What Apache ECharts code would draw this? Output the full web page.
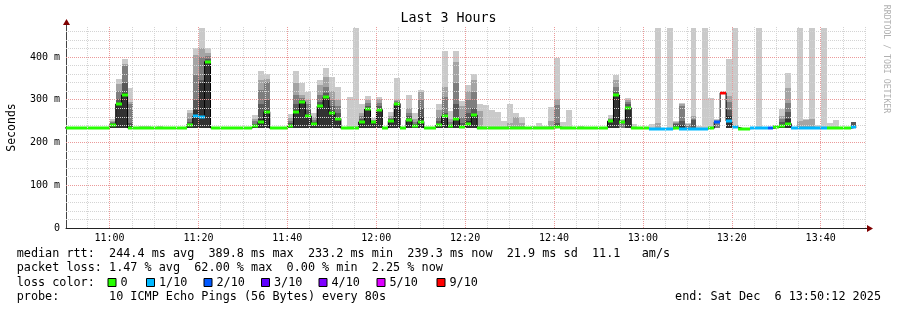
<!DOCTYPE html>
<html><head><meta charset="utf-8">
<script src="https://cdn.jsdelivr.net/npm/echarts@6/dist/echarts.min.js"></script>
<style>html,body{margin:0;padding:0;background:#fff}#c{width:897px;height:310px}</style>
</head><body><div id="c"></div>
<script>
const _ = null;
// time in seconds since local midnight; 80 s smokeping steps
const STEP_START = 38963, STEP_SEC = 80;
const X_MIN = 39012, X_MAX = 49812;   // 10:50:12 .. 13:50:12
const Y_MAX = 470;
const SMOKE_FLOOR = 233;

const xLabelValues = [39600, 40800, 42000, 43200, 44400, 45600, 46800, 48000, 49200];
const xLabelText   = ['11:00','11:20','11:40','12:00','12:20','12:40','13:00','13:20','13:40'];
const yLabelValues = [0, 100, 200, 300, 400];
const yLabelText   = ['0', '100 m', '200 m', '300 m', '400 m'];

// median rtt per step (ms)
const medianMs = [
234,234,234,234,234,234,234,234,242,290,
311,234,234,235,235,233,234,233,233,234,
234,242,261,259,389,234,233,234,233,234,
233,234,238,247,272,233,233,233,239,271,
295,262,243,285,306,270,256,233,234,234,
248,279,247,277,234,250,291,235,253,239,
249,234,234,240,261,238,254,236,244,264,
233,233,234,234,234,234,234,234,234,234,
234,234,234,236,234,234,234,234,234,234,
234,234,250,311,249,281,233,233,233,232,
232,232,232,233,232,232,232,232,232,233,
248,316,250,236,232,232,234,234,234,233,
236,238,244,234,234,234,234,234,234,234,
234,233,233,236];
// lost pings out of 10 per step
const lossOf10 = [
0,0,0,0,0,0,0,0,0,0,
0,0,0,0,0,0,0,0,0,0,
0,0,1,1,0,0,0,0,0,0,
0,0,0,0,0,0,0,0,0,0,
0,0,0,0,0,0,0,0,0,0,
0,0,0,0,0,0,0,0,0,0,
0,0,0,0,0,0,0,0,0,0,
0,0,0,0,0,0,0,0,0,0,
0,0,0,0,0,0,0,0,0,0,
0,0,0,0,0,0,0,0,0,1,
1,1,1,0,1,1,1,1,1,0,
2,9,1,1,0,0,1,1,1,2,
0,0,0,1,1,1,1,1,1,0,
0,0,0,1];
// smoke band tops (ms), outer (lightest) to inner (darkest)
const smokeTop1 = [
_,_,_,_,_,_,_,_,256,348,
396,328,_,239,239,_,238,_,_,_,
_,276,422,468,421,237,_,_,_,_,
_,_,264,367,359,_,_,_,267,366,
339,317,270,346,374,352,329,_,306,468,
291,309,257,306,_,271,351,_,312,270,
323,_,_,291,415,273,415,297,335,359,
291,288,275,271,250,291,270,260,_,238,
246,238,283,398,248,277,_,239,_,_,
_,_,264,358,254,304,244,_,_,244,
468,_,468,250,293,246,468,238,468,304,
256,_,396,468,_,_,_,468,_,_,
240,278,363,_,468,256,468,240,468,246,
253,_,_,248];
const smokeTop2 = [
_,_,_,_,_,_,_,_,251,336,
384,295,_,_,_,_,_,_,_,_,
_,270,404,420,409,_,_,_,_,_,
_,_,256,346,349,_,_,_,258,339,
310,300,260,334,352,321,300,_,_,_,
270,299,253,301,_,262,300,_,280,255,
317,_,_,275,329,255,388,285,320,346,
273,_,_,_,_,245,260,245,_,_,
_,_,250,301,_,_,_,_,_,_,
_,_,258,347,252,299,_,_,_,_,
246,_,_,248,290,243,261,_,_,_,
252,_,309,_,_,_,_,_,_,_,
_,262,328,_,250,252,254,_,_,_,
_,_,_,248];
const smokeTop3 = [
_,_,_,_,_,_,_,_,248,320,
378,291,_,_,_,_,_,_,_,_,
_,256,357,400,402,_,_,_,_,_,
_,_,250,322,341,_,_,_,250,310,
305,290,252,310,330,300,285,_,_,_,
262,292,251,292,_,258,296,_,270,248,
300,_,_,260,306,248,340,260,300,317,
_,_,_,_,_,_,_,_,_,_,
_,_,_,287,_,_,_,_,_,_,
_,_,254,330,251,295,_,_,_,_,
_,_,_,246,286,240,256,_,_,_,
250,_,295,_,_,_,_,_,_,_,
_,255,293,_,_,_,_,_,_,_,
_,_,_,248];
const smokeTop4 = [
_,_,_,_,_,_,_,_,245,302,
340,245,_,_,_,_,_,_,_,_,
_,248,300,345,395,_,_,_,_,_,
_,_,244,290,300,_,_,_,245,290,
300,275,247,295,315,285,270,_,_,_,
255,285,249,285,_,254,293,_,262,243,
280,_,_,250,270,242,290,245,270,280,
_,_,_,_,_,_,_,_,_,_,
_,_,_,245,_,_,_,_,_,_,
_,_,252,318,_,290,_,_,_,_,
_,_,_,244,250,_,253,_,_,_,
_,_,275,_,_,_,_,_,_,_,
_,248,271,_,_,_,_,_,_,_,
_,_,_,247];
const smokeTop5 = [
_,_,_,_,_,_,_,_,243,293,
315,238,_,_,_,_,_,_,_,_,
_,244,275,338,391,_,_,_,_,_,
_,_,240,255,275,_,_,_,241,275,
297,265,245,287,308,273,258,_,_,_,
250,281,248,279,_,252,292,_,255,240,
260,_,_,242,263,240,256,238,250,266,
_,_,_,_,_,_,_,_,_,_,
_,_,_,_,_,_,_,_,_,_,
_,_,251,313,_,283,_,_,_,_,
_,_,_,_,240,_,_,_,_,_,
_,_,262,_,_,_,_,_,_,_,
_,240,255,_,_,_,_,_,_,_,
_,_,_,_];

const lossLegendLabels = ['0','1/10','2/10','3/10','4/10','5/10','9/10'];
const lossLegendColors = ['#26ff00','#00b8ff','#0059ff','#5e00ff','#7e00ff','#dd00ff','#ff0000'];
const SMOKE_COLORS = ['#cacaca','#a4a4a4','#7e7e7e','#585858','#323232'];
function lossColor(n){ return n <= 5 ? lossLegendColors[n] : lossLegendColors[6]; }

const smokeTops = [smokeTop1, smokeTop2, smokeTop3, smokeTop4, smokeTop5];
const smokeData = medianMs.map((m, k) => {
  const t0 = STEP_START + k * STEP_SEC;
  return [t0, t0 + STEP_SEC, SMOKE_FLOOR].concat(smokeTops.map(a => a[k] == null ? NaN : a[k]));
});
const lossData = medianMs.map((m, k) => {
  const t0 = STEP_START + k * STEP_SEC;
  return [t0, t0 + STEP_SEC, m, lossOf10[k]];
});
const medianLine = medianMs.map((m, k) => [STEP_START + k * STEP_SEC, m]);
medianLine.push([STEP_START + medianMs.length * STEP_SEC, medianMs[medianMs.length - 1]]);

function clip(shape, cs){
  return echarts.graphic.clipRectByRect(shape, {x: cs.x, y: cs.y, width: cs.width, height: cs.height});
}
function renderSmoke(params, api){
  const cs = params.coordSys;
  const t0 = api.value(0), t1 = api.value(1), fl = api.value(2);
  const a = api.coord([t0, fl]), b = api.coord([t1, fl]);
  const x0 = Math.round(a[0]), x1 = Math.round(b[0]), yb = Math.round(a[1]);
  const children = [];
  for (let i = 0; i < 5; i++){
    const h = api.value(3 + i);
    if (h == null || isNaN(h) || h <= fl) continue;
    const yt = Math.round(api.coord([t0, Math.min(h, Y_MAX)])[1]);
    const s = clip({x: x0, y: yt, width: x1 - x0, height: yb - yt}, cs);
    if (s) children.push({type: 'rect', shape: s, style: {fill: SMOKE_COLORS[i]}});
  }
  return {type: 'group', children};
}
function renderLoss(params, api){
  const cs = params.coordSys;
  const t0 = api.value(0), t1 = api.value(1), m = api.value(2), n = api.value(3);
  const a = api.coord([t0, m]), b = api.coord([t1, m]);
  const x0 = Math.round(a[0]), x1 = Math.round(b[0]);
  const s = clip({x: x0, y: Math.round(a[1]) - 1.5, width: x1 - x0, height: 3}, cs);
  if (!s) return null;
  return {type: 'rect', shape: s, style: {fill: lossColor(n)}};
}

// grid lines
const MINOR = {color: '#d4d4d4', type: [1, 1], width: 1};
const MAJOR = {color: '#eb9a9a', type: [1, 1], width: 1};
const gridLines = [];
for (let t = 39300; t < X_MAX; t += 300){
  gridLines.push({xAxis: t, lineStyle: (t - 39600) % 1200 === 0 ? MAJOR : MINOR});
}
for (let v = 20; v < Y_MAX; v += 20){
  gridLines.push({yAxis: v, lineStyle: v % 100 === 0 ? MAJOR : MINOR});
}

const MONO = '"DejaVu Sans Mono", monospace';
const LF = '11.8px ' + MONO;
const legendBoxX = [107.5, 146, 203.5, 261, 318.5, 376.5, 436.5];
const graphics = [
  {type: 'text', x: 16.7, y: 253.5, style: {text: 'median rtt:  244.4 ms avg  389.8 ms max  233.2 ms min  239.3 ms now  21.9 ms sd  11.1   am/s', font: LF, fill: '#000', verticalAlign: 'middle'}},
  {type: 'text', x: 16.7, y: 268.3, style: {text: 'packet loss: 1.47 % avg  62.00 % max  0.00 % min  2.25 % now', font: LF, fill: '#000', verticalAlign: 'middle'}},
  {type: 'text', x: 16.7, y: 282.7, style: {text: 'loss color:', font: LF, fill: '#000', verticalAlign: 'middle'}},
  {type: 'text', x: 16.7, y: 297.3, style: {text: 'probe:       10 ICMP Echo Pings (56 Bytes) every 80s', font: LF, fill: '#000', verticalAlign: 'middle'}},
  {type: 'text', x: 881, y: 297.3, style: {text: 'end: Sat Dec  6 13:50:12 2025', font: LF, fill: '#000', align: 'right', verticalAlign: 'middle'}},
  {type: 'text', x: 886, y: 59, rotation: -Math.PI / 2, style: {text: 'RRDTOOL / TOBI OETIKER', font: '8.2px ' + MONO, fill: '#b0b0b0', align: 'center', verticalAlign: 'middle'}}
];
lossLegendLabels.forEach((lab, i) => {
  graphics.push({type: 'rect', shape: {x: legendBoxX[i] + 0.5, y: 278.5, width: 8, height: 8}, style: {fill: lossLegendColors[i], stroke: '#000', lineWidth: 1}});
  graphics.push({type: 'text', x: legendBoxX[i] + 13, y: 282.7, style: {text: lab, font: LF, fill: '#000', verticalAlign: 'middle'}});
});

const chart = echarts.init(document.getElementById('c'), null, {renderer: 'canvas'});
chart.setOption({
  animation: false,
  backgroundColor: '#ffffff',
  title: {text: 'Last 3 Hours', left: 'center', top: 12, padding: 0,
    textStyle: {fontFamily: MONO, fontSize: 13.3, fontWeight: 'normal', color: '#000'}},
  grid: {left: 66, right: 31, top: 27, bottom: 82, containLabel: false, outerBoundsMode: 'none'},
  xAxis: {
    type: 'value', min: X_MIN, max: X_MAX,
    axisLine: {lineStyle: {color: '#222', width: 1}},
    axisTick: {show: false},
    splitLine: {show: false},
    axisLabel: {customValues: xLabelValues, margin: 5, fontFamily: MONO, fontSize: 10, color: '#000',
      formatter: v => { const i = xLabelValues.indexOf(v); return i >= 0 ? xLabelText[i] : ''; }}
  },
  yAxis: {
    type: 'value', min: 0, max: Y_MAX,
    name: 'Seconds', nameLocation: 'middle', nameGap: 48, nameRotate: 90,
    nameTextStyle: {fontFamily: MONO, fontSize: 11.5, color: '#000'},
    axisLine: {show: true, lineStyle: {color: '#444', width: 1}},
    axisTick: {show: false},
    splitLine: {show: false},
    axisLabel: {customValues: yLabelValues, margin: 6, fontFamily: MONO, fontSize: 10, color: '#000',
      formatter: v => { const i = yLabelValues.indexOf(v); return i >= 0 ? yLabelText[i] : ''; }}
  },
  graphic: graphics,
  series: [
    {type: 'line', z: 1, data: [[X_MIN, 0]], symbol: 'none', lineStyle: {opacity: 0}, silent: true,
      markLine: {silent: true, symbol: 'none', label: {show: false}, animation: false, data: gridLines}},
    {type: 'custom', z: 2, renderItem: renderSmoke, data: smokeData, encode: {x: [0, 1], y: 2}, silent: true},
    {type: 'line', z: 3, data: medianLine, step: 'end', symbol: 'none', lineStyle: {color: '#000', width: 1}, silent: true},
    {type: 'custom', z: 4, renderItem: renderLoss, data: lossData, encode: {x: [0, 1], y: 2}, silent: true}
  ]
});

// axis arrows (rrdtool style), placed from the axis scales
const pX = chart.convertToPixel({gridIndex: 0}, [X_MAX, 0]);
const pY = chart.convertToPixel({gridIndex: 0}, [X_MIN, Y_MAX]);
chart.setOption({graphic: graphics.concat([
  {type: 'line', shape: {x1: pX[0], y1: pX[1] + 0.5, x2: pX[0] + 3, y2: pX[1] + 0.5}, style: {stroke: '#222', lineWidth: 1}},
  {type: 'polygon', shape: {points: [[pX[0] + 1, pX[1] - 3], [pX[0] + 1, pX[1] + 4], [pX[0] + 7, pX[1] + 0.5]]}, style: {fill: '#7f0000'}},
  {type: 'line', shape: {x1: pY[0] + 0.5, y1: pY[1], x2: pY[0] + 0.5, y2: pY[1] - 3}, style: {stroke: '#444', lineWidth: 1}},
  {type: 'polygon', shape: {points: [[pY[0] - 3, pY[1] - 2], [pY[0] + 4, pY[1] - 2], [pY[0] + 0.5, pY[1] - 8]]}, style: {fill: '#7f0000'}}
])});
</script>
</body></html>
